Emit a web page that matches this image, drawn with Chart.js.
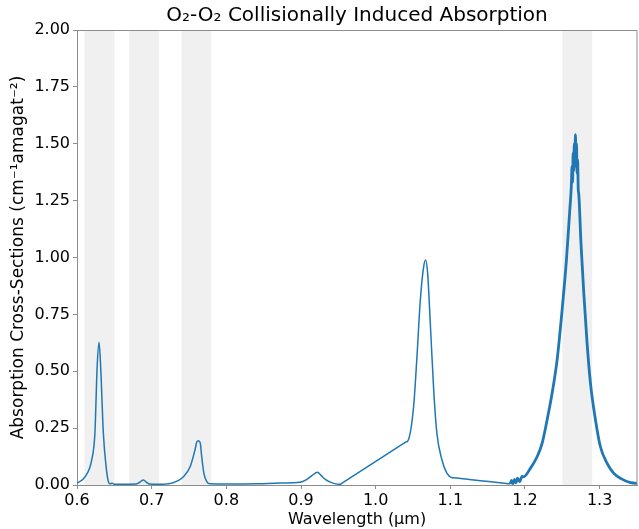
<!DOCTYPE html>
<html>
<head>
<meta charset="utf-8">
<script src="https://cdn.jsdelivr.net/npm/chart.js@4.4.1/dist/chart.umd.min.js"></script>
<style>
  html, body { margin: 0; padding: 0; background: #fff; }
  #wrap { width: 639px; height: 529px; }
</style>
</head>
<body>
<div id="wrap"><canvas id="cia"></canvas></div>
<script>
// visible + near-IR part of the spectrum (0.6 - 1.18 um)
const wlVis = [0.600, 0.6107, 0.6197, 0.624, 0.627, 0.6295, 0.6317, 0.6353, 0.639, 0.642, 0.644, 0.647, 0.650, 0.660,
  0.679, 0.684, 0.689, 0.693, 0.697, 0.710, 0.7287, 0.7425, 0.7515, 0.758, 0.7605, 0.7625, 0.765, 0.767, 0.770,
  0.7738, 0.778, 0.800, 0.840, 0.872, 0.899, 0.908, 0.915, 0.922, 0.9275, 0.9325, 0.9436, 0.9525, 0.955,
  1.039, 1.041, 1.0433, 1.0508, 1.0553, 1.0598, 1.0643, 1.067, 1.0696, 1.0732, 1.0777, 1.082, 1.0888, 1.0955, 1.1023,
  1.104, 1.140, 1.178, 1.180];
const cia = [0.007, 0.036, 0.11, 0.23, 0.52, 0.627, 0.52, 0.227, 0.08, 0.015, 0.005, 0.008, 0.003, 0.003,
  0.004, 0.012, 0.022, 0.012, 0.004, 0.003, 0.01, 0.036, 0.08, 0.154, 0.19, 0.195, 0.186, 0.125, 0.05,
  0.015, 0.005, 0.004, 0.005, 0.009, 0.012, 0.025, 0.042, 0.056, 0.04, 0.025, 0.007, 0.003, 0.0083,
  0.1859, 0.1901, 0.195, 0.344, 0.564, 0.813, 0.96, 0.989, 0.93, 0.71, 0.418, 0.227, 0.11, 0.051, 0.032,
  0.0314, 0.0189, 0.0057, 0.005];

// 1.27 um band (noisy measurement)
const wlBand = [1.180, 1.182, 1.184, 1.186, 1.188, 1.190, 1.193, 1.196, 1.198, 1.2072, 1.2162, 1.2229, 1.2296,
  1.2363, 1.243, 1.2497, 1.2555, 1.260, 1.2620, 1.2630, 1.2637, 1.2645, 1.2652, 1.2660, 1.2667, 1.2676, 1.2683,
  1.2690, 1.2697, 1.2705, 1.2713, 1.272, 1.275, 1.2788, 1.2832, 1.2877, 1.2944, 1.301, 1.310, 1.319, 1.328, 1.3413, 1.353];
const ciaBand = [0.004, 0.02, 0.006, 0.025, 0.01, 0.03, 0.015, 0.038, 0.036, 0.073, 0.124, 0.183, 0.286,
  0.403, 0.55, 0.77, 0.99, 1.21, 1.31, 1.40, 1.33, 1.46, 1.38, 1.50, 1.42, 1.54, 1.40,
  1.50, 1.37, 1.43, 1.30, 1.28, 1.06, 0.84, 0.62, 0.447, 0.286, 0.168, 0.095, 0.051, 0.029, 0.01, 0.007];

// shaded instrument bands [start, end] in um
const bandStart = [0.61, 0.67, 0.74, 1.25];
const bandEnd = [0.65, 0.71, 0.78, 1.29];

const xTicks = [0.6, 0.7, 0.8, 0.9, 1.0, 1.1, 1.2, 1.3];
const yTicks = [0, 0.25, 0.5, 0.75, 1.0, 1.25, 1.5, 1.75, 2.0];

const FONT = "'DejaVu Sans', sans-serif";
const SPINE = '#8c8c8c';

const toPts = (xs, ys) => xs.map((x, i) => ({ x, y: ys[i] }));

const bandsPlugin = {
  id: 'bands',
  beforeDatasetsDraw(chart) {
    const { ctx, chartArea: a, scales: { x } } = chart;
    ctx.save();
    ctx.fillStyle = '#f0f0f0';
    bandStart.forEach((s, i) => {
      const l = x.getPixelForValue(s), r = x.getPixelForValue(bandEnd[i]);
      ctx.fillRect(l, a.top, r - l, a.bottom - a.top);
    });
    ctx.restore();
  },
  afterDraw(chart) {
    const { ctx, chartArea: a } = chart;
    ctx.save();
    ctx.strokeStyle = SPINE;
    ctx.lineWidth = 1;
    ctx.beginPath();
    ctx.moveTo(a.left, a.top + 0.5);
    ctx.lineTo(a.right, a.top + 0.5);
    ctx.lineTo(a.right, a.bottom);
    ctx.stroke();
    // title, centred over the plot area
    ctx.fillStyle = '#000';
    ctx.font = '20px ' + FONT;
    ctx.textAlign = 'center';
    ctx.textBaseline = 'middle';
    ctx.fillText('O\u2082-O\u2082 Collisionally Induced Absorption', (a.left + a.right) / 2, 16);
    ctx.restore();
  }
};

new Chart(document.getElementById('cia').getContext('2d'), {
  type: 'line',
  data: {
    datasets: [
      { data: toPts(wlVis, cia), borderColor: '#1f77b4', borderWidth: 1.5, pointRadius: 0, cubicInterpolationMode: 'monotone', fill: false },
      { data: toPts(wlBand, ciaBand), borderColor: '#1f77b4', borderWidth: 2.8, pointRadius: 0, cubicInterpolationMode: 'monotone', fill: false }
    ]
  },
  options: {
    responsive: true,
    maintainAspectRatio: false,
    animation: false,
    layout: { padding: { top: 30, right: 2, left: 0, bottom: 0 } },
    plugins: { legend: { display: false }, tooltip: { enabled: false } },
    scales: {
      x: {
        type: 'linear', min: 0.6, max: 1.35,
        afterBuildTicks: (s) => { s.ticks = xTicks.map((v) => ({ value: v })); },
        afterFit: (s) => { s.height = 44; },
        grid: { drawOnChartArea: false, tickLength: 4, color: SPINE },
        border: { color: SPINE },
        ticks: { color: '#000', padding: 2, font: { family: FONT, size: 16 }, callback: (v) => v.toFixed(1), maxRotation: 0 },
        title: { display: true, text: 'Wavelength (\u03bcm)', color: '#000', font: { family: FONT, size: 16 }, padding: { top: 0, bottom: 0 } }
      },
      y: {
        min: 0, max: 2,
        afterBuildTicks: (s) => { s.ticks = yTicks.map((v) => ({ value: v })); },
        afterFit: (s) => { s.width = 77; },
        grid: { drawOnChartArea: false, tickLength: 4, color: SPINE },
        border: { color: SPINE },
        ticks: { color: '#000', padding: 3, font: { family: FONT, size: 16 }, callback: (v) => v.toFixed(2) },
        title: { display: true, text: 'Absorption Cross-Sections (cm\u207b\u00b9amagat\u207b\u00b2)', color: '#000', font: { family: FONT, size: 17 }, padding: { top: 8, bottom: 0 } }
      }
    }
  },
  plugins: [bandsPlugin]
});
</script>
</body>
</html>
